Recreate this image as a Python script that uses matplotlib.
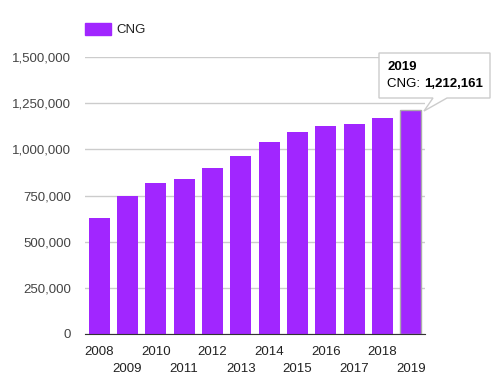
import matplotlib
matplotlib.use('Agg')
import matplotlib.pyplot as plt
from matplotlib.patches import Polygon, Rectangle

years = ['2008', '2009', '2010', '2011', '2012', '2013',
         '2014', '2015', '2016', '2017', '2018', '2019']
cng = [628000, 747000, 817000, 839000, 898000, 963000,
       1039000, 1093000, 1126000, 1136000, 1169000, 1212161]
yticks = [0, 250000, 500000, 750000, 1000000, 1250000, 1500000]

purple = '#a126ff'
plt.rcParams['font.family'] = ['Liberation Sans', 'DejaVu Sans']

W, H = 499, 386
fig = plt.figure(figsize=(W / 100, H / 100), dpi=100)
ax = fig.add_axes([85 / W, 1 - 334 / H, 340 / W, 277 / H])

x = range(len(years))
bars = ax.bar(x, cng, width=0.75, color=purple, zorder=3)
# hovered bar gets a grey outline
bars[-1].set_edgecolor('#aaaaaa')
bars[-1].set_linewidth(1.0)

ax.set_xlim(-0.5, len(years) - 0.5)
ax.set_ylim(0, 1500000)
ax.set_yticks(yticks)
ax.set_yticklabels(['{:,}'.format(v) for v in yticks], fontsize=9.5, color='#444444')
ax.yaxis.grid(True, color='#cccccc', linewidth=1, zorder=0)
ax.tick_params(axis='y', length=0, pad=10)

ax.set_xticks(list(x))
ax.set_xticklabels([y if i % 2 == 0 else '\n' + y for i, y in enumerate(years)],
                   fontsize=9.5, color='#222222', linespacing=1.55)
ax.tick_params(axis='x', length=0, pad=8.5)

for s in ['top', 'right', 'left']:
    ax.spines[s].set_visible(False)
ax.spines['bottom'].set_color('#333333')
ax.spines['bottom'].set_zorder(4)

# legend
fig.patches.append(Rectangle((85 / W, 1 - 35 / H), 26 / W, 12 / H,
                             transform=fig.transFigure, color=purple))
fig.text(116 / W, 1 - 30 / H, 'CNG', fontsize=9.5, color='#222222', va='center')

# tooltip
pts = [(379, 53), (490, 53), (490, 98), (447, 98), (424, 111), (433, 98), (379, 98)]
fig.patches.append(Polygon([(px / W, 1 - py / H) for px, py in pts], closed=True,
                           transform=fig.transFigure, facecolor='white',
                           edgecolor='#cccccc', linewidth=1, zorder=5))
fig.text(387 / W, 1 - 67 / H, years[-1], fontsize=9.5, fontweight='bold',
         color='#000000', va='center', zorder=6)
fig.text(387 / W, 1 - 84 / H, 'CNG: ', fontsize=9.5, color='#000000',
         va='center', zorder=6)
fig.text(424 / W, 1 - 84 / H, '{:,}'.format(cng[-1]), fontsize=9.5,
         fontweight='bold', color='#000000', va='center', zorder=6)

fig.savefig('out.png', dpi=100)
